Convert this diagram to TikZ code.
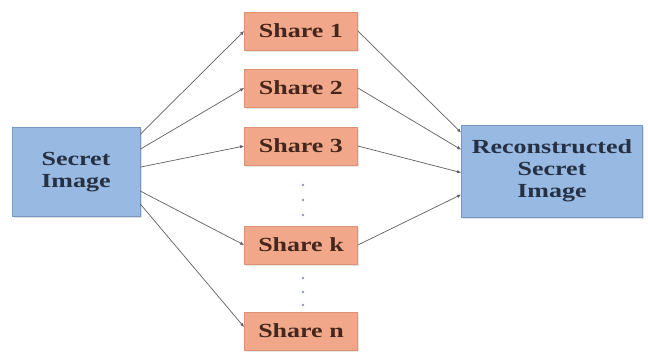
\documentclass[tikz,border=0pt]{standalone}
\usepackage{fontspec}
\setmainfont{Liberation Serif}[FakeStretch=1.3]
\usepackage{xcolor}
\usetikzlibrary{shapes, arrows.meta, shadows}

\definecolor{imgblue}{RGB}{152,186,226}
\definecolor{imgline}{RGB}{118,150,198}
\definecolor{sharefill}{RGB}{241,168,138}
\definecolor{shareline}{RGB}{222,146,116}
\definecolor{bluetext}{RGB}{38,48,68}
\definecolor{sharetext}{RGB}{70,38,28}
\definecolor{arrgray}{RGB}{95,95,95}
\definecolor{dotgray}{RGB}{140,155,180}

\tikzset{
    imgbox/.style={draw=imgline, fill=imgblue, rectangle, line width=0.8pt,
        text=bluetext, align=center, font=\fontsize{20}{22}\selectfont\bfseries,
        drop shadow={opacity=0.25, shadow xshift=1.5pt, shadow yshift=-1.5pt}},
    sharebox/.style={draw=shareline, fill=sharefill, rectangle, line width=0.8pt,
        text=sharetext, minimum width=113pt, minimum height=38pt,
        font=\fontsize{20}{22}\selectfont\bfseries,
        drop shadow={opacity=0.2, shadow xshift=1.5pt, shadow yshift=-1.5pt}},
    arr/.style={draw=arrgray, line width=0.7pt, -{Latex[length=4pt, width=3.5pt]}}
}

\begin{document}
\begin{tikzpicture}[x=1pt, y=-1pt]
    \useasboundingbox (0,0) rectangle (648,360);

    % input and output images
    \node[imgbox, minimum width=128pt, minimum height=89pt] (si) at (76,172) {Secret\\Image};
    \node[imgbox, minimum width=181pt, minimum height=92pt] (ri) at (552,171) {Reconstructed\\Secret\\Image};

    % shares
    \node[sharebox] (s1) at (301,31) {Share 1};
    \node[sharebox] (s2) at (301,88) {Share 2};
    \node[sharebox] (s3) at (301,146) {Share 3};
    \node[sharebox] (sk) at (301,245) {Share k};
    \node[sharebox] (sn) at (301,331) {Share n};

    % dots
    \foreach \y in {185,200,215,278,292,305}
        \fill[dotgray] (303,\y) circle (1.3pt);

    % secret image to shares
    \draw[arr] ([yshift=-7pt]si.north east) -- (s1.west);
    \draw[arr] ([yshift=-22pt]si.north east) -- (s2.west);
    \draw[arr] ([yshift=-40pt]si.north east) -- (s3.west);
    \draw[arr] ([yshift=-64pt]si.north east) -- (sk.west);
    \draw[arr] ([yshift=-77pt]si.north east) -- ([yshift=4pt]sn.west);

    % shares to reconstructed image
    \draw[arr] (s1.east) -- ([yshift=-8pt]ri.north west);
    \draw[arr] (s2.east) -- ([yshift=-25pt]ri.north west);
    \draw[arr] (s3.east) -- ([yshift=-48pt]ri.north west);
    \draw[arr] (sk.east) -- ([yshift=-70pt]ri.north west);
\end{tikzpicture}
\end{document}
